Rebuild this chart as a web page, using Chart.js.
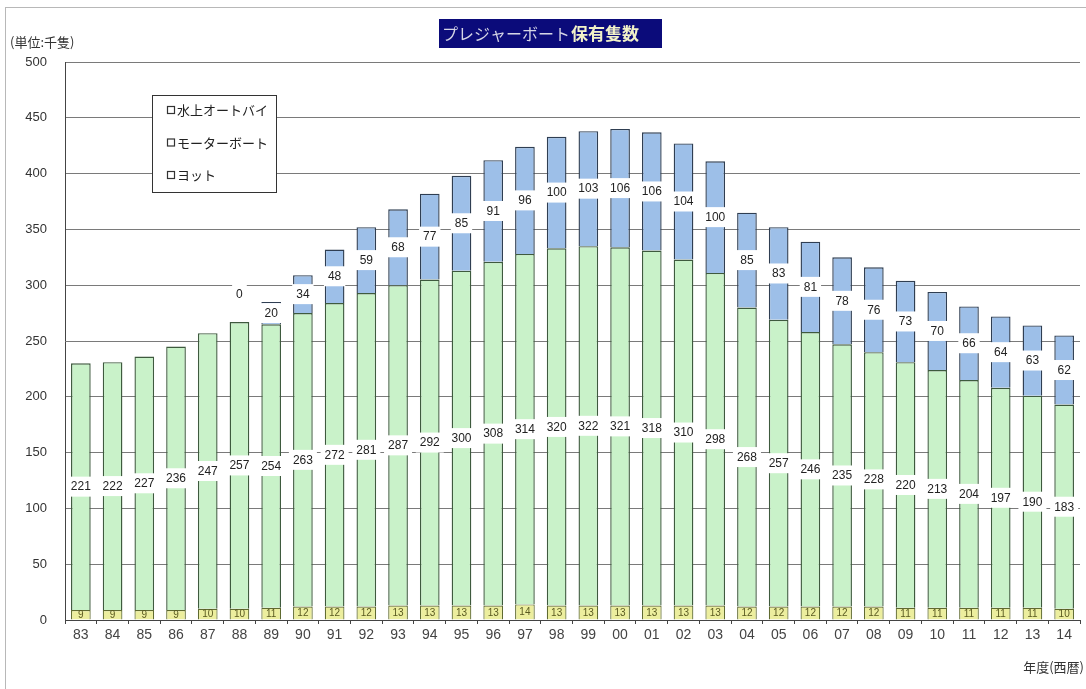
<!DOCTYPE html>
<html lang="ja">
<head>
<meta charset="utf-8">
<title>プレジャーボート保有隻数</title>
<script src="https://cdn.jsdelivr.net/npm/chart.js@4/dist/chart.umd.min.js"></script>
<style>
  html, body { margin: 0; padding: 0; background: #fff; }
  #wrap { width: 1086px; height: 689px; }
</style>
</head>
<body>
<div id="wrap"><canvas id="c" width="1086" height="689"></canvas></div>
<script>
// 年度（西暦下2桁）
const years = ['83','84','85','86','87','88','89','90','91','92','93','94','95','96','97','98','99',
               '00','01','02','03','04','05','06','07','08','09','10','11','12','13','14'];
// 保有隻数（千隻）
const yacht = [9,9,9,9,10,10,11,12,12,12,13,13,13,13,14,13,13,13,13,13,13,12,12,12,12,12,11,11,11,11,11,10];
const motorboat = [221,222,227,236,247,257,254,263,272,281,287,292,300,308,314,320,322,321,318,310,
                   298,268,257,246,235,228,220,213,204,197,190,183];
const waterBike = [null,null,null,null,null,0,20,34,48,59,68,77,85,91,96,100,103,106,106,104,100,
                   85,83,81,78,76,73,70,66,64,63,62];
const yTicks = [0,50,100,150,200,250,300,350,400,450,500];

const JP = '"Noto Sans CJK JP", "Noto Sans", sans-serif';
const NUM = '"Liberation Sans", Arial, sans-serif';

const legendItems = ['水上オートバイ', 'モーターボート', 'ヨット'];

// 各区間の中央に値ラベルを描く
const valueLabels = {
  id: 'valueLabels',
  afterDatasetsDraw(chart) {
    const ctx = chart.ctx;
    ctx.save();
    ctx.textAlign = 'center';
    ctx.textBaseline = 'middle';
    chart.data.datasets.forEach((ds, di) => {
      const meta = chart.getDatasetMeta(di);
      meta.data.forEach((bar, i) => {
        const v = ds.data[i];
        if (v === null || v === undefined) return;
        let cy = (bar.y + bar.base) / 2;
        if (v === 0) cy -= 28;
        const txt = String(v);
        if (ds.labelStyle === 'small') {
          ctx.font = '10px ' + NUM;
          ctx.fillStyle = '#5a5a20';
          ctx.fillText(txt, bar.x, cy + 0.5);
        } else {
          ctx.font = '12px ' + NUM;
          const w = ctx.measureText(txt).width + 8;
          ctx.fillStyle = '#ffffff';
          ctx.fillRect(bar.x - w / 2, cy - 10, w, 20);
          ctx.fillStyle = '#222';
          ctx.fillText(txt, bar.x, cy + 0.5);
        }
      });
    });
    ctx.restore();
  }
};

// 外枠・表題・単位・凡例
const decorations = {
  id: 'decorations',
  beforeDraw(chart) {
    const ctx = chart.ctx;
    ctx.save();
    ctx.fillStyle = '#fff';
    ctx.fillRect(0, 0, chart.width, chart.height);
    ctx.strokeStyle = '#b8b8b8';
    ctx.lineWidth = 1;
    ctx.strokeRect(5.5, 7.5, chart.width + 10, chart.height + 10);
    ctx.restore();
  },
  afterDraw(chart) {
    const ctx = chart.ctx;
    ctx.save();
    // 表題
    ctx.fillStyle = '#0b0b7a';
    ctx.fillRect(439, 19, 223, 29);
    ctx.textBaseline = 'middle';
    ctx.textAlign = 'left';
    ctx.font = '16px ' + JP;
    ctx.fillStyle = '#d6d6e6';
    const t1 = 'プレジャーボート';
    ctx.fillText(t1, 442, 34);
    const w1 = ctx.measureText(t1).width;
    ctx.font = 'bold 17px ' + JP;
    ctx.fillStyle = '#f2f2c8';
    ctx.fillText('保有隻数', 442 + w1 + 1, 34);

    // 単位
    ctx.font = '13px ' + JP;
    ctx.fillStyle = '#333';
    ctx.fillText('(単位:千隻)', 10, 42);
    ctx.textAlign = 'right';
    ctx.fillText('年度(西暦)', 1084, 667);

    // 凡例
    const lx = 152.5, ly = 95.5, lw = 124, lh = 97;
    ctx.fillStyle = '#fff';
    ctx.fillRect(lx, ly, lw, lh);
    ctx.strokeStyle = '#333';
    ctx.lineWidth = 1;
    ctx.strokeRect(lx, ly, lw, lh);
    ctx.textAlign = 'left';
    ctx.font = '13px ' + JP;
    legendItems.forEach((name, k) => {
      const y = 110 + k * 32.5;
      ctx.strokeStyle = '#333';
      ctx.lineWidth = 1.2;
      ctx.strokeRect(167.5, y - 3.5, 7, 7);
      ctx.fillStyle = '#222';
      ctx.fillText(name, 177, y + 0.5);
    });
    ctx.restore();
  }
};

new Chart(document.getElementById('c'), {
  type: 'bar',
  data: {
    labels: years,
    datasets: [
      { label: 'ヨット', data: yacht, backgroundColor: '#ecee9e', borderColor: '#5f6a30',
        borderWidth: 1.2, labelStyle: 'small' },
      { label: 'モーターボート', data: motorboat, backgroundColor: '#c9f2c9', borderColor: '#3e5a3e',
        borderWidth: 1.4 },
      { label: '水上オートバイ', data: waterBike, backgroundColor: '#9dbfe8', borderColor: '#2f3e52',
        borderWidth: 1.4 }
    ]
  },
  options: {
    responsive: false,
    animation: false,
    events: [],
    layout: { padding: { top: 62, right: 6, left: 0, bottom: 0 } },
    datasets: { bar: { barPercentage: 0.62, categoryPercentage: 1.0 } },
    plugins: { legend: { display: false }, tooltip: { enabled: false }, title: { display: false } },
    scales: {
      x: {
        stacked: true,
        offset: true,
        grid: { display: true, drawOnChartArea: false, drawTicks: true, tickLength: 4, color: '#444', offset: true },
        border: { display: true, color: '#444', width: 1 },
        ticks: { color: '#444', font: { family: NUM, size: 14 }, padding: 3, maxRotation: 0, autoSkip: false },
        afterFit(scale) { scale.height = 69; }
      },
      y: {
        stacked: true,
        min: 0,
        max: 500,
        afterBuildTicks(scale) { scale.ticks = yTicks.map(v => ({ value: v })); },
        grid: { color: '#7a7a7a', lineWidth: 1, drawTicks: false },
        border: { display: true, color: '#444', width: 1 },
        ticks: { color: '#333', font: { family: NUM, size: 13 }, padding: 18 },
        afterFit(scale) { scale.width = 65; }
      }
    }
  },
  plugins: [decorations, valueLabels]
});
</script>
</body>
</html>
